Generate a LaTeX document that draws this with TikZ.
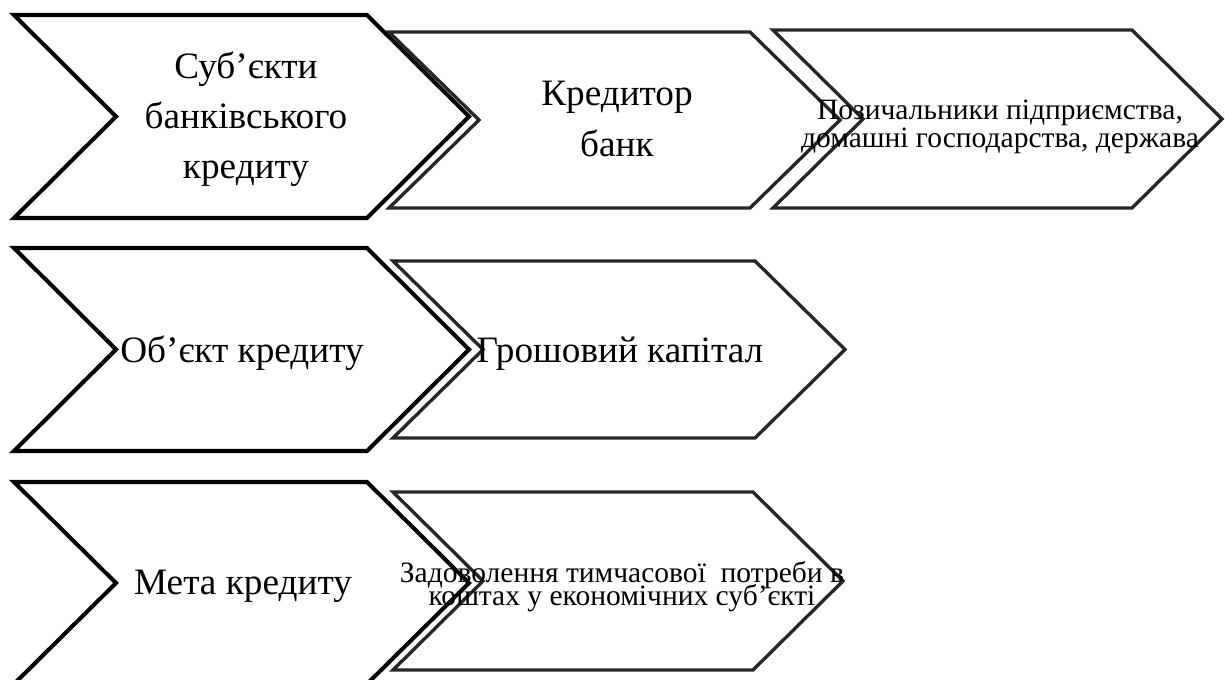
\documentclass[tikz,border=0pt]{standalone}
\usepackage{fontspec}
\setmainfont{Liberation Serif}
\definecolor{rimgray}{HTML}{262626}
% chevron: style, left x, right x, top y, bottom y, point depth
\newcommand{\chevron}[6]{%
  \draw[#1] (#2,#4) -- (#3,#4) -- (#3+#6,{(#4+#5)/2}) -- (#3,#5)
    -- (#2,#5) -- (#2+#6,{(#4+#5)/2}) -- cycle;}

\begin{document}
\begin{tikzpicture}[x=0.02cm, y=-0.02cm,
    lead/.style={draw=black, line width=2.3pt, fill=white},
    follow/.style={draw=rimgray, line width=1.9pt, fill=white},
    caption/.style={font=\fontsize{21.2}{28.6}\selectfont, align=center, inner sep=0pt},
    tight/.style={font={\fontsize{16.8}{#1}\selectfont\setlength{\lineskiplimit}{-20pt}}}]
  \useasboundingbox (0,0) rectangle (1225,680);

  % subjects
  \chevron{lead}{14}{367}{15}{218}{102}
  \chevron{follow}{389}{750}{32}{208}{90}
  \chevron{follow}{773}{1132}{30}{208}{90}
  \node[caption] (subj) at (246,119) {Суб’єкти\\банківського\\кредиту};
  \node[caption, font=\fontsize{21.2}{29.5}\selectfont] (cred) at (617,119) {Кредитор\\банк};
  \node[caption, tight=15.9] (borr) at (1000,127)
    {Позичальники підприємства,\\домашні господарства, держава};

  % object
  \chevron{lead}{14}{367}{248}{451}{102}
  \chevron{follow}{393}{755}{261}{438}{90}
  \node[caption, anchor=base] (obj) at (242,362) {Об’єкт кредиту};
  \node[caption, anchor=base] (money) at (620,362) {Грошовий капітал};

  % purpose
  \chevron{lead}{14}{367}{482}{684}{102}
  \chevron{follow}{393}{753}{492}{670}{90}
  \node[caption, anchor=base] (goal) at (243,594) {Мета кредиту};
  \node[caption, tight=13] (need) at (622,587)
    {Задоволення тимчасової~ потреби в\\коштах у економічних суб’єкті};
\end{tikzpicture}
\end{document}
